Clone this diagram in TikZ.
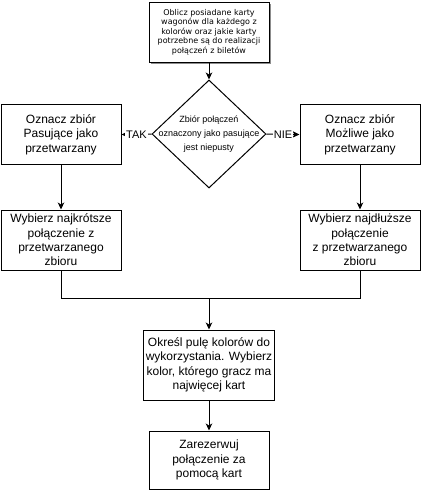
\documentclass[tikz,border=0pt]{standalone}
\usepackage{fontspec}
\setmainfont{Liberation Sans}
\newfontfamily\smallfont{DejaVu Sans}
\usetikzlibrary{shapes.geometric,arrows.meta,shadows}
\begin{document}
\begin{tikzpicture}[x=1pt,y=-1pt,
  box/.style={draw, line width=1pt, fill=white, minimum width=120pt, minimum height=60pt,
    inner sep=2pt, align=center, font=\fontsize{12}{14.4}\selectfont},
  flow/.style={draw, line width=1pt, -{Stealth[length=7pt,width=6.5pt,inset=2pt]}},
  link/.style={draw, line width=1pt},
  lbl/.style={fill=white, inner sep=1pt, font=\fontsize{11}{13}\selectfont}]
\useasboundingbox (0,0) rectangle (421,491);

% start box with a drop shadow
\node[box, minimum height=60pt, font=\smallfont\fontsize{8}{9.6}\selectfont,
  drop shadow={shadow xshift=2pt, shadow yshift=-2pt, fill=black!45, opacity=1}]
  (start) at (209,32) {Oblicz posiadane karty\\wagonów dla każdego z\\kolorów oraz jakie karty\\potrzebne są do realizacji\\połączeń z biletów};

% decision
\node[diamond, draw, line width=1pt, fill=white, minimum width=114pt, minimum height=108pt, inner sep=0pt]
  (dec) at (209,134) {};
\node[align=center, inner sep=0pt, font=\fontsize{9}{14}\selectfont] (dectext) at (dec.center)
  {Zbiór połączeń\\oznaczony jako pasujące\\jest niepusty};

% left branch
\node[box] (l1) at (61,134.5) {Oznacz zbiór\\Pasujące jako\\przetwarzany};
\node[box] (l2) at (61,240) {Wybierz najkrótsze\\połączenie z\\przetwarzanego\\zbioru};

% right branch
\node[box] (r1) at (360,134.5) {Oznacz zbiór\\Możliwe jako\\przetwarzany};
\node[box] (r2) at (360,240) {Wybierz najdłuższe\\połączenie\\z przetwarzanego\\zbioru};

% merge and final steps
\coordinate (join) at (209,298);
\node[box, minimum width=130pt, minimum height=70pt] (pool) at (209,365)
  {Określ pulę kolorów do\\wykorzystania. Wybierz\\kolor, którego gracz ma\\najwięcej kart};
\node[box, minimum height=58pt] (reserve) at (209,460)
  {Zarezerwuj\\połączenie za\\pomocą kart};

% connectors
\draw[flow] (start) -- (dec);
\draw[flow] (dec.west) -- node[lbl] {TAK} (l1.east);
\draw[flow] (dec.east) -- node[lbl] {NIE} (r1.west);
\draw[flow] (l1) -- (l2);
\draw[flow] (r1) -- (r2);
\draw[link] (l2.south) |- (join);
\draw[link] (r2.south) |- (join);
\draw[flow] (join) -- (pool.north);
\draw[flow] (pool) -- (reserve);
\end{tikzpicture}
\end{document}
